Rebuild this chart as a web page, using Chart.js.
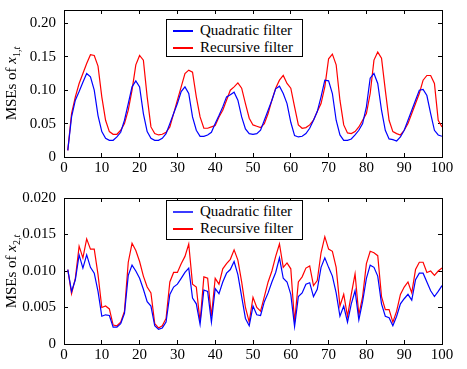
<!DOCTYPE html>
<html lang="en">
  <head>
    <meta charset="UTF-8" />
    <title>MSEs of x1 and x2</title>
    <script src="https://cdn.jsdelivr.net/npm/chart.js"></script>
    <style>
      body { margin: 0; background: #fff; font-family: "Liberation Serif", serif; }
      .panel { position: absolute; left: 0; width: 467px; }
      .ytitle {
        position: absolute; width: 160px; text-align: center; font-size: 15px;
        transform: rotate(-90deg); white-space: nowrap;
      }
      .ytitle sub { font-size: 10px; }
      .legend {
        position: absolute; border: 1px solid #000; background: #fff;
        font-size: 15px; line-height: 17px; padding: 2px 6px 2px 6px;
      }
      .legend div { display: flex; align-items: center; white-space: nowrap; }
      .legend span.sw { display: inline-block; width: 20px; height: 2px; margin-right: 7px; }
    </style>
  </head>
  <body>
    <div class="panel" style="top:0;height:185px"><canvas id="top" width="467" height="185"></canvas></div>
    <div class="panel" style="top:185px;height:184px"><canvas id="bottom" width="467" height="184"></canvas></div>

    <div class="ytitle" style="left:-68px;top:74px">MSEs of <i>x</i><sub>1,<i>t</i></sub></div>
    <div class="ytitle" style="left:-68px;top:262px">MSEs of <i>x</i><sub>2,<i>t</i></sub></div>

    <div class="legend" style="left:166px;top:19px;width:123px;height:32px">
      <div><span class="sw" style="background:#0000ff"></span>Quadratic filter</div>
      <div><span class="sw" style="background:#ff0000"></span>Recursive filter</div>
    </div>
    <div class="legend" style="left:166px;top:200px;width:123px;height:34px">
      <div><span class="sw" style="background:#3b3bff"></span>Quadratic filter</div>
      <div><span class="sw" style="background:#ff0000"></span>Recursive filter</div>
    </div>

    <script>
      // time steps
      const steps = Array.from({ length: 100 }, (_, i) => i + 1);

      const quadX1 = [
        0.010, 0.060, 0.085, 0.098, 0.112, 0.125, 0.120, 0.100, 0.062, 0.038,
        0.028, 0.025, 0.025, 0.030, 0.037, 0.055, 0.080, 0.105, 0.114, 0.105,
        0.065, 0.038, 0.028, 0.025, 0.025, 0.028, 0.035, 0.050, 0.065, 0.080,
        0.098, 0.105, 0.095, 0.060, 0.040, 0.031, 0.031, 0.033, 0.037, 0.050,
        0.062, 0.075, 0.090, 0.093, 0.097, 0.085, 0.060, 0.042, 0.035, 0.034,
        0.035, 0.040, 0.055, 0.070, 0.085, 0.102, 0.106, 0.095, 0.080, 0.052,
        0.032, 0.030, 0.031, 0.035, 0.043, 0.055, 0.068, 0.090, 0.115, 0.114,
        0.095, 0.055, 0.033, 0.025, 0.025, 0.027, 0.033, 0.040, 0.050, 0.075,
        0.118, 0.125, 0.110, 0.070, 0.040, 0.027, 0.026, 0.024, 0.030, 0.040,
        0.055, 0.070, 0.085, 0.100, 0.101, 0.092, 0.065, 0.040, 0.033, 0.031
      ];
      const recX1 = [
        0.010, 0.065, 0.090, 0.110, 0.125, 0.140, 0.153, 0.152, 0.136, 0.090,
        0.055, 0.038, 0.034, 0.034, 0.040, 0.050, 0.070, 0.100, 0.138, 0.152,
        0.145, 0.090, 0.045, 0.035, 0.033, 0.034, 0.037, 0.045, 0.065, 0.085,
        0.105, 0.125, 0.130, 0.127, 0.090, 0.060, 0.043, 0.043, 0.045, 0.047,
        0.060, 0.070, 0.085, 0.100, 0.105, 0.111, 0.103, 0.080, 0.058, 0.048,
        0.046, 0.044, 0.050, 0.065, 0.085, 0.103, 0.115, 0.122, 0.110, 0.103,
        0.075, 0.048, 0.043, 0.044, 0.048, 0.055, 0.068, 0.080, 0.105, 0.147,
        0.154, 0.138, 0.085, 0.048, 0.036, 0.035, 0.038, 0.045, 0.055, 0.065,
        0.095, 0.145, 0.157, 0.148, 0.100, 0.055, 0.038, 0.035, 0.033, 0.040,
        0.050, 0.065, 0.080, 0.095, 0.115, 0.122, 0.122, 0.110, 0.055, 0.045
      ];

      const quadX2 = [
        0.0102, 0.0072, 0.0088, 0.0122, 0.0104, 0.0122, 0.0105, 0.0097, 0.0072, 0.0038,
        0.0040, 0.0039, 0.0023, 0.0023, 0.0028, 0.0042, 0.0094, 0.0108, 0.0100, 0.0090,
        0.0075, 0.0058, 0.0052, 0.0025, 0.0020, 0.0022, 0.0030, 0.0068, 0.0078, 0.0082,
        0.0090, 0.0098, 0.0104, 0.0063, 0.0055, 0.0027, 0.0074, 0.0072, 0.0030, 0.0076,
        0.0069, 0.0085, 0.0097, 0.0102, 0.0113, 0.0095, 0.0065, 0.0035, 0.0025, 0.0052,
        0.0040, 0.0039, 0.0058, 0.0070, 0.0085, 0.0098, 0.0118, 0.0090, 0.0085, 0.0068,
        0.0024, 0.0065, 0.0070, 0.0082, 0.0084, 0.0065, 0.0075, 0.0105, 0.0118, 0.0105,
        0.0093, 0.0070, 0.0038, 0.0052, 0.0030, 0.0055, 0.0073, 0.0033, 0.0058, 0.0090,
        0.0108, 0.0105, 0.0093, 0.0055, 0.0038, 0.0036, 0.0025, 0.0038, 0.0055, 0.0062,
        0.0068, 0.0060, 0.0088, 0.0097, 0.0097, 0.0085, 0.0073, 0.0065, 0.0072, 0.0080
      ];
      const recX2 = [
        0.0102, 0.0069, 0.0090, 0.0134, 0.0118, 0.0144, 0.0130, 0.0130, 0.0095, 0.0050,
        0.0052, 0.0048, 0.0026, 0.0025, 0.0030, 0.0045, 0.0112, 0.0138, 0.0128, 0.0113,
        0.0093, 0.0078, 0.0070, 0.0028, 0.0022, 0.0025, 0.0035, 0.0085, 0.0098, 0.0098,
        0.0110, 0.0120, 0.0137, 0.0082, 0.0078, 0.0030, 0.0092, 0.0090, 0.0038, 0.0090,
        0.0082, 0.0103, 0.0110, 0.0116, 0.0129, 0.0115, 0.0085, 0.0050, 0.0030, 0.0064,
        0.0050, 0.0045, 0.0065, 0.0085, 0.0100, 0.0120, 0.0137, 0.0105, 0.0111, 0.0103,
        0.0030, 0.0085, 0.0092, 0.0104, 0.0107, 0.0080, 0.0087, 0.0125, 0.0147, 0.0130,
        0.0127, 0.0105, 0.0052, 0.0068, 0.0038, 0.0068, 0.0096, 0.0040, 0.0065, 0.0110,
        0.0127, 0.0125, 0.0121, 0.0065, 0.0047, 0.0047, 0.0030, 0.0045, 0.0068, 0.0078,
        0.0085, 0.0070, 0.0102, 0.0112, 0.0112, 0.0098, 0.0100, 0.0094, 0.0100, 0.0104
      ];

      const xTicks = [0, 10, 20, 30, 40, 50, 60, 70, 80, 90, 100];
      const yTicksTop = [0, 0.05, 0.1, 0.15, 0.2];
      const yTicksBottom = [0, 0.005, 0.01, 0.015, 0.02];

      const font = { family: "'Liberation Serif', serif", size: 15 };

      // matlab-like box: ticks point into the plot (negative tick length)
      const inwardGrid = { display: true, drawOnChartArea: false, drawTicks: true, tickLength: -4, color: "#000", lineWidth: 1 };
      const box = { display: true, color: "#000", width: 1 };

      function makeChart(id, quad, rec, yMax, yTicks, digits, padTop, xHeight) {
        const pts = (arr) => steps.map((s, i) => ({ x: s, y: arr[i] }));
        const setX = (s) => { s.ticks = xTicks.map((v) => ({ value: v })); };
        const setY = (s) => { s.ticks = yTicks.map((v) => ({ value: v })); };
        return new Chart(document.getElementById(id), {
          type: "line",
          data: {
            datasets: [
              { label: "Quadratic filter", data: pts(quad), borderColor: "#0000ff", borderWidth: 1.2, pointRadius: 0, tension: 0 },
              { label: "Recursive filter", data: pts(rec), borderColor: "#ff0000", borderWidth: 1.2, pointRadius: 0, tension: 0 },
            ],
          },
          options: {
            responsive: false,
            animation: false,
            layout: { padding: { top: padTop, right: 25, left: 0, bottom: 0 } },
            plugins: { legend: { display: false }, tooltip: { enabled: false } },
            scales: {
              x: {
                type: "linear", position: "bottom", min: 0, max: 100,
                afterBuildTicks: setX,
                afterFit: (s) => { s.height = xHeight; s.paddingLeft = 0; s.paddingRight = 0; },
                ticks: { color: "#000", font, padding: 6, maxRotation: 0 },
                grid: inwardGrid,
                border: box,
              },
              x2: {
                type: "linear", position: "top", min: 0, max: 100,
                afterBuildTicks: setX,
                afterFit: (s) => { s.height = 0; s.paddingLeft = 0; s.paddingRight = 0; },
                ticks: { display: false },
                grid: inwardGrid,
                border: box,
              },
              y: {
                type: "linear", position: "left", min: 0, max: yMax,
                afterBuildTicks: setY,
                afterFit: (s) => { s.width = 64; s.paddingTop = 0; s.paddingBottom = 0; },
                ticks: {
                  color: "#000", font, padding: 12,
                  callback: (v) => (v === 0 ? "0" : v.toFixed(digits)),
                },
                grid: inwardGrid,
                border: box,
              },
              y2: {
                type: "linear", position: "right", min: 0, max: yMax,
                afterBuildTicks: setY,
                afterFit: (s) => { s.width = 0; s.paddingTop = 0; s.paddingBottom = 0; },
                ticks: { display: false },
                grid: inwardGrid,
                border: box,
              },
            },
          },
        });
      }

      makeChart("top", quadX1, recX1, 0.22, yTicksTop, 2, 10, 28);
      makeChart("bottom", quadX2, recX2, 0.02, yTicksBottom, 3, 13, 25);
    </script>
  </body>
</html>
